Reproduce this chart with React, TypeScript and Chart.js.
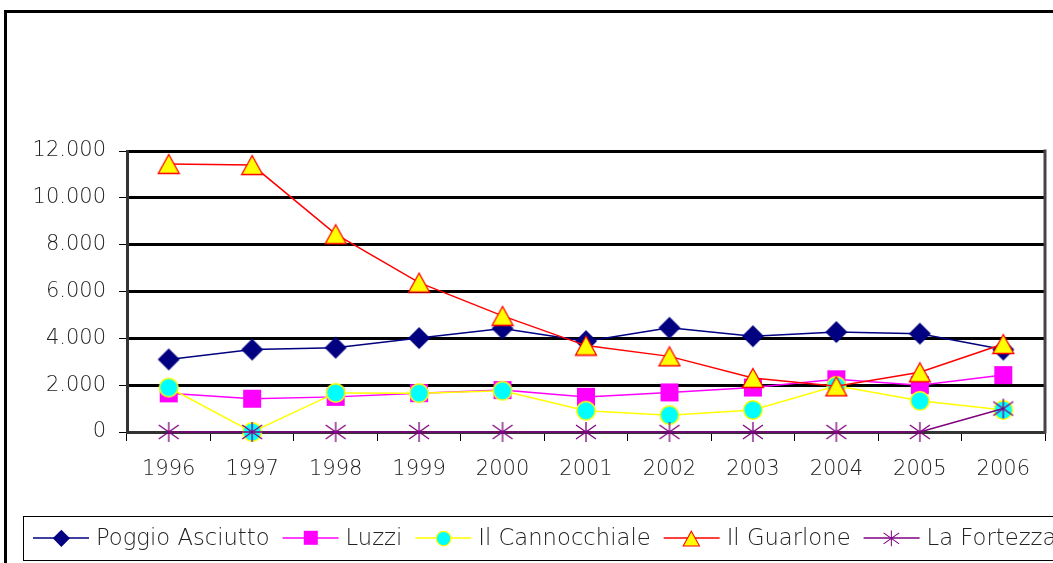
import React, { useEffect, useRef } from 'react';
import { Chart, registerables } from 'chart.js';

Chart.register(...registerables);

const years = ['1996', '1997', '1998', '1999', '2000', '2001', '2002', '2003', '2004', '2005', '2006'];
const poggioAsciutto = [3100, 3520, 3600, 4010, 4420, 3880, 4450, 4090, 4270, 4200, 3520];
const luzzi = [1650, 1420, 1500, 1660, 1790, 1500, 1690, 1900, 2250, 2000, 2430];
const ilCannocchiale = [1900, 0, 1670, 1660, 1760, 910, 720, 940, 1970, 1330, 940];
const ilGuarlone = [11450, 11400, 8450, 6380, 4960, 3690, 3230, 2310, 1950, 2550, 3760];
const laFortezza = [0, 0, 0, 0, 0, 0, 0, 0, 0, 0, 1000];
const yMin = 0;
const yMax = 12000;
const yStep = 2000;

const FONT_FAMILY = '"DejaVu Sans", "Open Sans", sans-serif';

function mk(w: number, h: number, draw: (c: CanvasRenderingContext2D) => void, s = 1) {
  const cv = document.createElement('canvas');
  cv.width = Math.round(w * s);
  cv.height = Math.round(h * s);
  const c = cv.getContext('2d')!;
  c.scale(s, s);
  draw(c);
  return cv;
}

function markers(s = 1) {
  return {
    diamond: mk(24, 24, (c) => {
      c.beginPath();
      c.moveTo(12, 1); c.lineTo(23, 12); c.lineTo(12, 23); c.lineTo(1, 12); c.closePath();
      c.fillStyle = '#000080'; c.fill();
    }, s),
    square: mk(20, 20, (c) => {
      c.fillStyle = '#FF00FF'; c.fillRect(1, 1, 18, 18);
    }, s),
    circle: mk(22, 22, (c) => {
      c.beginPath(); c.arc(11, 11, 9.3, 0, Math.PI * 2);
      c.fillStyle = '#00FFFF'; c.fill();
      c.strokeStyle = '#FFFF00'; c.lineWidth = 1.5; c.stroke();
    }, s),
    triangle: mk(24, 22, (c) => {
      c.beginPath();
      c.moveTo(12, 1.5); c.lineTo(22.5, 20.5); c.lineTo(1.5, 20.5); c.closePath();
      c.fillStyle = '#FFFF00'; c.fill();
      c.strokeStyle = '#FF0000'; c.lineWidth = 1.3; c.stroke();
    }, s),
    star: mk(24, 24, (c) => {
      c.strokeStyle = '#800080'; c.lineWidth = 1.3;
      c.beginPath();
      c.moveTo(12, 2); c.lineTo(12, 22);
      c.moveTo(2, 5); c.lineTo(22, 19);
      c.moveTo(2, 19); c.lineTo(22, 5);
      c.stroke();
    }, s),
  };
}

function fmt(v: number) {
  if (v >= 1000) {
    const th = Math.floor(v / 1000);
    const rest = v % 1000;
    return `${th}.${String(rest).padStart(3, '0')}`;
  }
  return String(v);
}

export default function App() {
  const ref = useRef<HTMLCanvasElement>(null);

  useEffect(() => {
    const canvas = ref.current!;
    const big = markers(1);
    const small = markers(0.78);
    const series = [
      { label: 'Poggio Asciutto', data: poggioAsciutto, color: '#000080', key: 'diamond' },
      { label: 'Luzzi', data: luzzi, color: '#FF00FF', key: 'square' },
      { label: 'Il Cannocchiale', data: ilCannocchiale, color: '#FFFF00', key: 'circle' },
      { label: 'Il Guarlone', data: ilGuarlone, color: '#FF0000', key: 'triangle' },
      { label: 'La Fortezza', data: laFortezza, color: '#800080', key: 'star' },
    ];

    const framePlugin = {
      id: 'frame',
      beforeDatasetsDraw(chart: any) {
        const { ctx, chartArea } = chart;
        ctx.save();
        ctx.strokeStyle = '#444';
        ctx.lineWidth = 3;
        ctx.beginPath();
        ctx.moveTo(chartArea.right, chartArea.top - 1.5);
        ctx.lineTo(chartArea.right, chartArea.bottom + 1.5);
        ctx.stroke();
        ctx.restore();
      },
      afterDraw(chart: any) {
        const { ctx } = chart;
        ctx.save();
        ctx.strokeStyle = '#000';
        ctx.lineWidth = 3;
        ctx.strokeRect(5.5, 11.5, 1200, 700);
        ctx.lineWidth = 1;
        ctx.strokeRect(23.5, 516.5, 1200, 44);
        const y = 538;
        let x = 33;
        ctx.font = `200 22.7px ${FONT_FAMILY}`;
        ctx.textBaseline = 'middle';
        ctx.textAlign = 'left';
        for (const s of series) {
          ctx.strokeStyle = s.color;
          ctx.lineWidth = 1.5;
          ctx.beginPath();
          ctx.moveTo(x, y);
          ctx.lineTo(x + 56, y);
          ctx.stroke();
          const m = (small as any)[s.key] as HTMLCanvasElement;
          ctx.drawImage(m, Math.round(x + 28 - m.width / 2), Math.round(y - m.height / 2));
          ctx.fillStyle = '#222';
          ctx.fillText(s.label, x + 63, y + 1);
          x = x + 63 + ctx.measureText(s.label).width + 13;
        }
        ctx.restore();
      },
    };

    const font = { family: FONT_FAMILY, size: 21, weight: '200' as any };

    const chart = new Chart(canvas, {
      type: 'line',
      data: {
        labels: years,
        datasets: series.map((s, i) => ({
          label: s.label,
          data: s.data,
          borderColor: s.color,
          backgroundColor: s.color,
          borderWidth: 1.5,
          pointStyle: (big as any)[s.key],
          pointRadius: 11,
          pointHoverRadius: 11,
          fill: false,
          tension: 0,
          clip: false as any,
          order: 5 - i,
        })),
      },
      options: {
        responsive: false,
        animation: false,
        devicePixelRatio: 1,
        events: [],
        layout: { autoPadding: false, padding: { top: 151, right: 8, left: 0, bottom: 0 } },
        plugins: {
          legend: { display: false },
          tooltip: { enabled: false },
          title: { display: false },
        },
        scales: {
          x: {
            type: 'category',
            offset: true,
            grid: {
              display: true,
              drawOnChartArea: false,
              drawTicks: true,
              tickLength: 9,
              tickColor: '#000',
              tickWidth: 1,
              offset: true,
            } as any,
            border: { display: true, color: '#333', width: 3 },
            ticks: { font, color: '#222', padding: 16, maxRotation: 0, autoSkip: false },
            afterFit: (s: any) => { s.height = 131; s.paddingLeft = 0; s.paddingRight = 0; },
          },
          y: {
            min: yMin,
            max: yMax,
            ticks: {
              stepSize: yStep,
              font,
              color: '#222',
              padding: 13,
              callback: (v: any) => fmt(Number(v)),
            },
            grid: {
              color: '#000',
              lineWidth: 3,
              tickLength: 8,
              tickColor: '#000',
              tickWidth: 1,
            } as any,
            border: { display: true, color: '#333', width: 3 },
            afterFit: (s: any) => { s.width = 127; },
          },
        },
      },
      plugins: [framePlugin],
    });

    return () => chart.destroy();
  }, []);

  return (
    <div style={{ position: 'absolute', left: 0, top: 0, width: 1053, height: 563, background: '#fff', overflow: 'hidden' }}>
      <canvas ref={ref} width={1053} height={563} style={{ display: 'block', width: 1053, height: 563 }} />
    </div>
  );
}
